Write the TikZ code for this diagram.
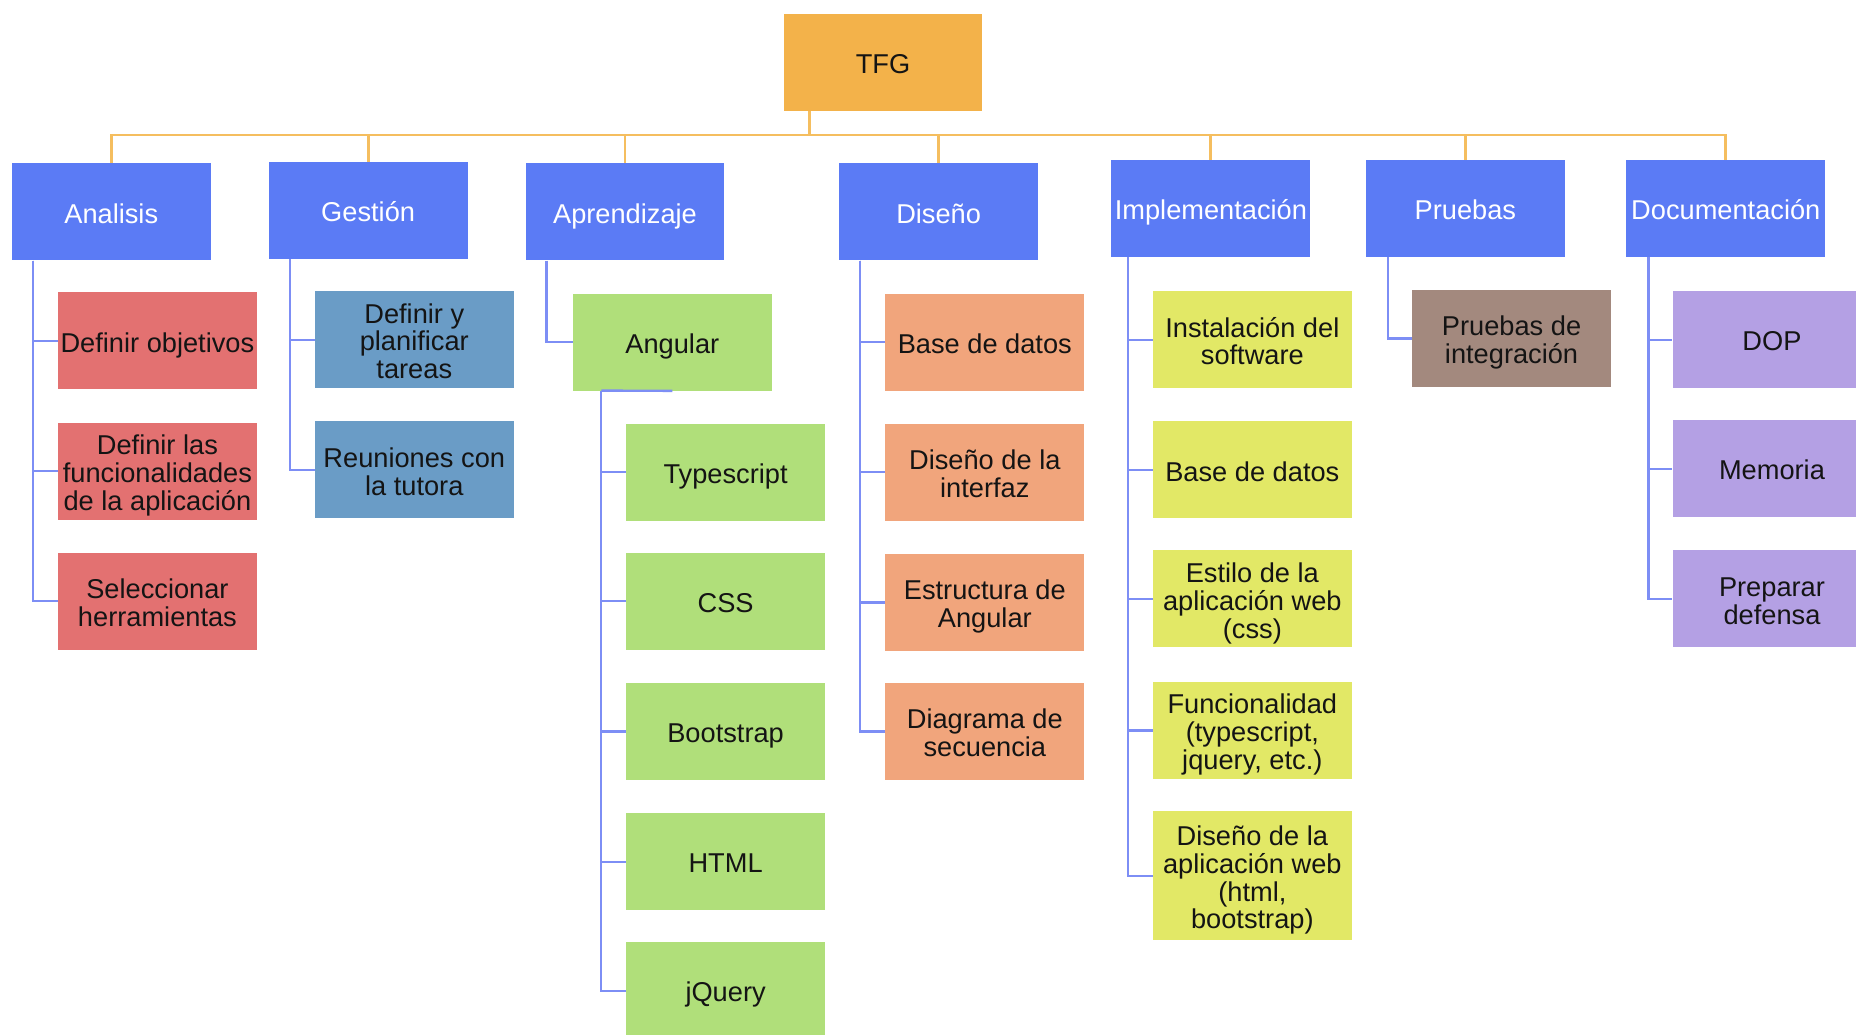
\documentclass[tikz,border=0pt]{standalone}
\usepackage{fontspec}
\setmainfont{Liberation Sans}
\definecolor{tfgC}{RGB}{243,178,74}
\definecolor{busC}{RGB}{245,190,95}
\definecolor{lvC}{RGB}{91,123,245}
\definecolor{connC}{RGB}{125,142,245}
\definecolor{redC}{RGB}{227,113,113}
\definecolor{steelC}{RGB}{106,156,198}
\definecolor{greenC}{RGB}{176,223,122}
\definecolor{orangeC}{RGB}{241,165,124}
\definecolor{yellowC}{RGB}{226,232,102}
\definecolor{brownC}{RGB}{163,137,126}
\definecolor{purpleC}{RGB}{180,160,228}
\newcommand\topstrut{\rule{0pt}{24pt}}
\newcommand\botstrut{\rule[-5pt]{0pt}{5pt}}
\begin{document}
\begin{tikzpicture}[x=1pt,y=-1pt,
  box/.style={draw=none, minimum width=168pt, minimum height=82pt, inner sep=0pt,
    align=center, font=\fontsize{23}{23.5}\selectfont, text=black!92},
  top/.style={box, fill=tfgC},
  lvone/.style={box, fill=lvC, text=white},
  redbox/.style={box, fill=redC},
  steelbox/.style={box, fill=steelC},
  greenbox/.style={box, fill=greenC},
  orangebox/.style={box, fill=orangeC},
  yellowbox/.style={box, fill=yellowC},
  brownbox/.style={box, fill=brownC},
  purplebox/.style={box, fill=purpleC},
  bus/.style={draw=busC, line width=2.4pt},
  conn/.style={draw=connC, line width=2pt}
]
\useasboundingbox (0,0) rectangle (1568,874);
\clip (0,0) rectangle (1568,874);
\fill[white] (0,0) rectangle (1568,874);

% root
\node[top] (tfg) at (746,53) {\topstrut TFG\botstrut};

% level 1
\node[lvone] (ana) at (94,179) {\topstrut Analisis\botstrut};
\node[lvone] (ges) at (311,178) {\topstrut Gestión\botstrut};
\node[lvone] (apr) at (528,179) {\topstrut Aprendizaje\botstrut};
\node[lvone] (dis) at (793,179) {\topstrut Diseño\botstrut};
\node[lvone] (imp) at (1023,176) {\topstrut Implementación\botstrut};
\node[lvone] (pru) at (1238,176) {\topstrut Pruebas\botstrut};
\node[lvone] (doc) at (1458,176) {\topstrut Documentación\botstrut};

% bus
\coordinate (stem) at (684,114);
\draw[bus] (tfg.south -| stem) -- (stem);
\draw[bus] (ana.north) -- (ana.north |- stem) -- (doc.north |- stem) -- (doc.north);
\foreach \n in {ges,apr,dis,imp,pru}
  \draw[bus] (\n.north) -- (\n.north |- stem);

% Analisis children
\node[redbox] (a1) at (133,288) {\topstrut Definir objetivos\botstrut};
\node[redbox] (a2) at (133,398) {\topstrut Definir las\\funcionalidades\\de la aplicación\botstrut};
\node[redbox] (a3) at (133,508) {\topstrut Seleccionar\\herramientas\botstrut};

% Gestion children
\node[steelbox] (g1) at (350,287) {\topstrut Definir y\\planificar\\tareas\botstrut};
\node[steelbox] (g2) at (350,397) {\topstrut Reuniones con\\la tutora\botstrut};

% Aprendizaje
\node[greenbox] (ang) at (568,289) {\topstrut Angular\botstrut};
\node[greenbox] (t1) at (613,399) {\topstrut Typescript\botstrut};
\node[greenbox] (t2) at (613,508) {\topstrut CSS\botstrut};
\node[greenbox] (t3) at (613,618) {\topstrut Bootstrap\botstrut};
\node[greenbox] (t4) at (613,728) {\topstrut HTML\botstrut};
\node[greenbox] (t5) at (613,837) {\topstrut jQuery\botstrut};

% Diseno
\node[orangebox] (d1) at (832,289) {\topstrut Base de datos\botstrut};
\node[orangebox] (d2) at (832,399) {\topstrut Diseño de la\\interfaz\botstrut};
\node[orangebox] (d3) at (832,509) {\topstrut Estructura de\\Angular\botstrut};
\node[orangebox] (d4) at (832,618) {\topstrut Diagrama de\\secuencia\botstrut};

% Implementacion
\node[yellowbox] (i1) at (1058,287) {\topstrut Instalación del\\software\botstrut};
\node[yellowbox] (i2) at (1058,397) {\topstrut Base de datos\botstrut};
\node[yellowbox] (i3) at (1058,506) {\topstrut Estilo de la\\aplicación web\\(css)\botstrut};
\node[yellowbox] (i4) at (1058,617) {\topstrut Funcionalidad\\(typescript,\\jquery, etc.)\botstrut};
\node[yellowbox, minimum height=109pt] (i5) at (1058,740) {\topstrut Diseño de la\\aplicación web\\(html,\\bootstrap)\botstrut};

% Pruebas
\node[brownbox] (p1) at (1277,286) {\topstrut Pruebas de\\integración\botstrut};

% Documentacion
\node[purplebox] (o1) at (1497,287) {\topstrut DOP\botstrut};
\node[purplebox] (o2) at (1497,396) {\topstrut Memoria\botstrut};
\node[purplebox] (o3) at (1497,506) {\topstrut Preparar\\defensa\botstrut};

% connectors
\foreach \c in {a1,a2,a3}
  \draw[conn] ([xshift=18pt]ana.south west) |- (\c.west);
\foreach \c in {g1,g2}
  \draw[conn] ([xshift=18pt]ges.south west) |- (\c.west);
\draw[conn] ([xshift=18pt]apr.south west) |- (ang.west);
\coordinate (angc) at (508,330);
\draw[conn] (ang.south) -- (angc);
\foreach \c in {t1,t2,t3,t4,t5}
  \draw[conn] (angc) |- (\c.west);
\foreach \c in {d1,d2,d3,d4}
  \draw[conn] ([xshift=18pt]dis.south west) |- (\c.west);
\foreach \c in {i1,i2,i3,i4,i5}
  \draw[conn] ([xshift=14pt]imp.south west) |- (\c.west);
\draw[conn] ([xshift=19pt]pru.south west) |- (p1.west);
\foreach \c in {o1,o2,o3}
  \draw[conn] ([xshift=19pt]doc.south west) |- (\c.west);
\end{tikzpicture}
\end{document}
